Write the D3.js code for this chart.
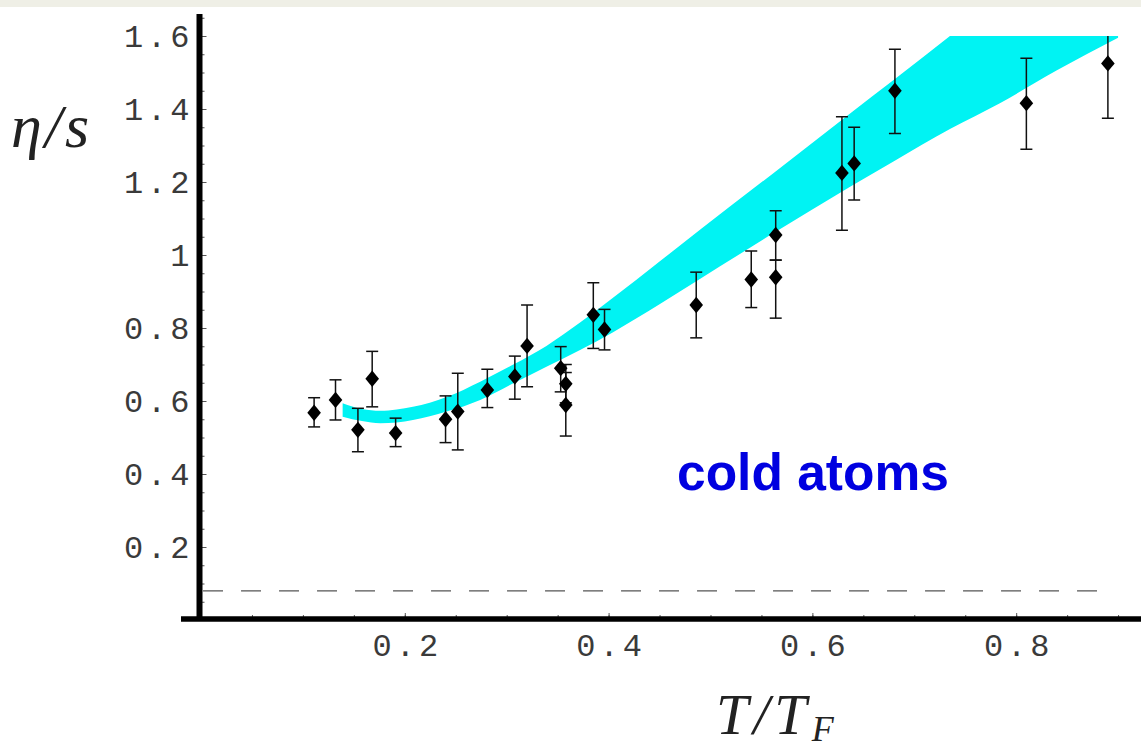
<!DOCTYPE html>
<html>
<head>
<meta charset="utf-8">
<script src="https://cdn.jsdelivr.net/npm/d3@7"></script>
<style>
  body { margin: 0; background: #fff; }
  svg { display: block; }
  .tick text { font-family: "Liberation Mono", monospace; font-size: 32px; fill: #3a3a3a; letter-spacing: 4px; }
  .tick line { stroke: #555; stroke-width: 1; }
</style>
</head>
<body>
<div id="chart"></div>
<script>
// measured points: T/T_F, eta/s, lower and upper end of the error bar
let ptT   = [0.111, 0.132, 0.154, 0.168, 0.191, 0.240, 0.252, 0.281, 0.308, 0.320, 0.353, 0.358, 0.358, 0.385, 0.396, 0.486, 0.540, 0.564, 0.564, 0.629, 0.641, 0.681, 0.810, 0.890];
let ptEta = [0.568, 0.603, 0.521, 0.661, 0.512, 0.550, 0.571, 0.630, 0.667, 0.751, 0.690, 0.647, 0.589, 0.836, 0.796, 0.863, 0.933, 1.055, 0.939, 1.225, 1.251, 1.450, 1.416, 1.525];
let ptLo  = [0.529, 0.548, 0.461, 0.584, 0.475, 0.486, 0.466, 0.582, 0.605, 0.639, 0.625, 0.595, 0.504, 0.744, 0.740, 0.773, 0.856, 0.986, 0.827, 1.068, 1.151, 1.333, 1.290, 1.375];
let ptHi  = [0.609, 0.658, 0.580, 0.736, 0.553, 0.614, 0.676, 0.687, 0.723, 0.863, 0.749, 0.700, 0.678, 0.924, 0.851, 0.953, 1.011, 1.121, 0.986, 1.379, 1.350, 1.564, 1.539, 1.680];

// theory band (cyan)
let bandT  = [0.139, 0.158, 0.176, 0.192, 0.208, 0.241, 0.274, 0.306, 0.339, 0.372, 0.404, 0.450, 0.490, 0.562, 0.637, 0.680, 0.735, 0.784, 0.840, 0.900];
let bandLo = [0.557, 0.545, 0.539, 0.541, 0.548, 0.571, 0.603, 0.648, 0.694, 0.740, 0.788, 0.865, 0.935, 1.060, 1.187, 1.257, 1.345, 1.416, 1.506, 1.595];
let bandHi = [0.594, 0.578, 0.573, 0.577, 0.584, 0.611, 0.653, 0.699, 0.751, 0.815, 0.882, 0.982, 1.070, 1.225, 1.388, 1.480, 1.600, 1.705, 1.825, 1.955];

// the dashed bound 1/(4 pi)
let boundValue = 0.0796;

let xTicks = [0.2, 0.4, 0.6, 0.8];
let xTickLabels = ["0.2", "0.4", "0.6", "0.8"];
let yTicks = [0.2, 0.4, 0.6, 0.8, 1.0, 1.2, 1.4, 1.6];
let yTickLabels = ["0.2", "0.4", "0.6", "0.8", "1", "1.2", "1.4", "1.6"];
let yMinor = d3.range(1, 34).map(i => i * 0.05);
let xMinor = d3.range(1, 19).map(i => i * 0.05);

let svgWidth = 1141;
let svgHeight = 752;

let svg = d3.select("#chart")
    .append("svg")
    .attr("width", svgWidth)
    .attr("height", svgHeight);

// light strip on top of the picture
svg.append("rect")
    .attr("x", 0).attr("y", 0)
    .attr("width", svgWidth).attr("height", 7)
    .attr("fill", "#efefe6");

let x = d3.scaleLinear().domain([0, 0.922]).range([201, 1140.5]);
let y = d3.scaleLinear().domain([0, 1.66]).range([620, 14.1]);

svg.append("clipPath").attr("id", "plotClip")
    .append("rect")
    .attr("x", x(0)).attr("y", y(1.6))
    .attr("width", x(0.922) - x(0)).attr("height", y(0) - y(1.6));

let band = bandT.map((t, i) => ({ t: t, lo: bandLo[i], hi: bandHi[i] }));
let points = ptT.map((t, i) => ({ t: t, eta: ptEta[i], lo: ptLo[i], hi: ptHi[i] }));

let plot = svg.append("g").attr("clip-path", "url(#plotClip)");

plot.append("path")
    .datum(band)
    .attr("fill", "#00f3f3")
    .attr("d", d3.area()
        .x(d => x(d.t))
        .y0(d => y(d.lo))
        .y1(d => y(d.hi))
        .curve(d3.curveMonotoneX));

// dashed line
svg.append("line")
    .attr("x1", x(0.002)).attr("x2", x(0.894))
    .attr("y1", y(boundValue)).attr("y2", y(boundValue))
    .attr("stroke", "#555")
    .attr("stroke-width", 1.3)
    .attr("stroke-dasharray", "20,18");

// error bars
plot.selectAll(".err")
    .data(points)
    .enter()
    .append("line")
    .attr("class", "err")
    .attr("x1", d => x(d.t)).attr("x2", d => x(d.t))
    .attr("y1", d => y(d.lo)).attr("y2", d => y(d.hi))
    .attr("stroke", "#111")
    .attr("stroke-width", 1.5);

let caps = [];
points.forEach(d => {
    caps.push({ t: d.t, v: d.lo });
    if (d.hi <= 1.6) caps.push({ t: d.t, v: d.hi });
});
plot.selectAll(".cap")
    .data(caps)
    .enter()
    .append("line")
    .attr("class", "cap")
    .attr("x1", d => x(d.t) - 6).attr("x2", d => x(d.t) + 6)
    .attr("y1", d => y(d.v)).attr("y2", d => y(d.v))
    .attr("stroke", "#111")
    .attr("stroke-width", 1.5);

// diamonds
svg.selectAll(".pt")
    .data(points)
    .enter()
    .append("path")
    .attr("class", "pt")
    .attr("transform", d => `translate(${x(d.t)}, ${y(d.eta)})`)
    .attr("d", "M0,-8.2L6.8,0L0,8.2L-6.8,0Z")
    .attr("fill", "#000");

// y axis ticks and labels
let yAxisG = svg.append("g")
    .attr("transform", "translate(199.5, 0)")
    .call(d3.axisLeft(y)
        .tickValues(yTicks)
        .tickFormat((d, i) => yTickLabels[i])
        .tickSizeInner(-7)
        .tickSizeOuter(0)
        .tickPadding(6));
yAxisG.select(".domain").remove();

let yMinorG = svg.append("g")
    .attr("transform", "translate(199.5, 0)")
    .call(d3.axisLeft(y).tickValues(yMinor).tickFormat("").tickSizeInner(-5).tickSizeOuter(0));
yMinorG.select(".domain").remove();
yMinorG.selectAll("line").attr("stroke", "#888");

// x axis ticks and labels
let xAxisG = svg.append("g")
    .attr("transform", "translate(0, 619)")
    .call(d3.axisBottom(x)
        .tickValues(xTicks)
        .tickFormat((d, i) => xTickLabels[i])
        .tickSizeInner(-6)
        .tickSizeOuter(0)
        .tickPadding(14));
xAxisG.select(".domain").remove();
xAxisG.selectAll("text").attr("dx", "2");

let xMinorG = svg.append("g")
    .attr("transform", "translate(0, 619)")
    .call(d3.axisBottom(x).tickValues(xMinor).tickFormat("").tickSizeInner(-4).tickSizeOuter(0));
xMinorG.select(".domain").remove();
xMinorG.selectAll("line").attr("stroke", "#aaa");

// thick axis lines
svg.append("line")
    .attr("x1", 199.5).attr("x2", 199.5)
    .attr("y1", y(1.66)).attr("y2", 621)
    .attr("stroke", "#000").attr("stroke-width", 6);
svg.append("line")
    .attr("x1", 181).attr("x2", svgWidth)
    .attr("y1", 619).attr("y2", 619)
    .attr("stroke", "#000").attr("stroke-width", 5.5);

// axis titles
svg.append("text")
    .attr("x", 11).attr("y", 147)
    .attr("font-family", "Liberation Serif, serif")
    .attr("font-style", "italic")
    .attr("font-size", 62)
    .attr("letter-spacing", 3)
    .attr("fill", "#222")
    .text("η/s");

let xTitle = svg.append("text")
    .attr("x", 716).attr("y", 734)
    .attr("font-family", "Liberation Serif, serif")
    .attr("font-style", "italic")
    .attr("font-size", 58)
    .attr("letter-spacing", 5)
    .attr("fill", "#222");
xTitle.append("tspan").text("T/T");
xTitle.append("tspan").attr("font-size", 36).attr("dy", 7).text("F");

// label
svg.append("text")
    .attr("x", 677).attr("y", 490)
    .attr("font-family", "Liberation Sans, Arial, sans-serif")
    .attr("font-weight", "bold")
    .attr("font-size", 51.5)
    .attr("fill", "#0000e0")
    .text("cold atoms");
</script>
</body>
</html>
